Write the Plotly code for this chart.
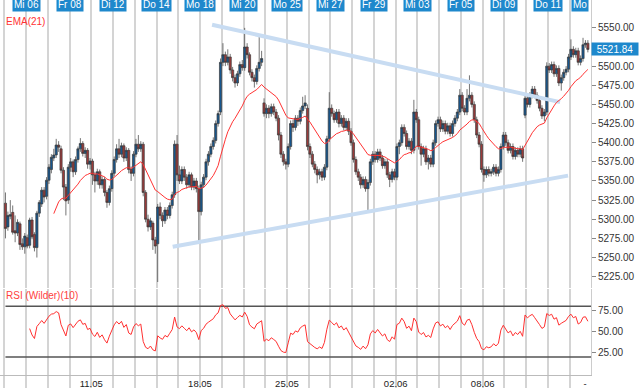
import plotly.graph_objects as go

# ---------------- data (hourly bars, 9 per trading day) ----------------
opens = [
    5321, 5290, 5304, 5309, 5285, 5282, 5294, 5268, 5264,
    5276, 5266, 5299, 5280, 5263, 5308, 5320, 5338, 5330,
    5351, 5365, 5380, 5384, 5397, 5392, 5364, 5342, 5325,
    5368, 5375, 5362, 5378, 5392, 5399, 5386, 5390, 5372,
    5376, 5358, 5350, 5362, 5345, 5352, 5335, 5322, 5340,
    5360, 5378, 5392, 5385, 5396, 5380, 5390, 5365, 5360,
    5385, 5398, 5392, 5398, 5335, 5300, 5290, 5295, 5273,
    5268, 5316, 5305, 5298, 5312, 5305, 5318, 5332, 5398,
    5358, 5350, 5365, 5355, 5345, 5358, 5342, 5350, 5340,
    5310, 5345, 5355, 5375, 5385, 5395, 5403, 5425, 5440,
    5505, 5515, 5505, 5512, 5495, 5485, 5478, 5490, 5502,
    5498, 5525, 5515, 5492, 5485, 5480, 5497, 5505, 5452,
    5438, 5445, 5438, 5447, 5440, 5432, 5410, 5385, 5375,
    5372, 5395, 5425, 5420, 5432, 5428, 5442, 5448, 5445,
    5395, 5385, 5372, 5365, 5358, 5362, 5355, 5368, 5405,
    5445, 5438, 5430, 5440, 5425, 5432, 5420, 5428, 5415,
    5400, 5378, 5362, 5355, 5345, 5352, 5340, 5348, 5375,
    5385, 5378, 5388, 5380, 5370, 5375, 5358, 5352, 5362,
    5355, 5395, 5400, 5420, 5412, 5395, 5402, 5390, 5440,
    5430, 5395, 5385, 5392, 5375, 5380, 5372, 5400, 5425,
    5430, 5418, 5425, 5415, 5422, 5412, 5425, 5432, 5440,
    5462, 5445, 5440, 5458, 5462, 5450, 5430, 5410, 5398,
    5365, 5358, 5365, 5360, 5362, 5368, 5360, 5365, 5395,
    5410, 5400, 5390, 5395, 5382, 5390, 5385, 5392, 5436,
    5458, 5450, 5462, 5470, 5462, 5455, 5445, 5435, 5440,
    5500, 5495, 5502, 5490, 5497, 5478, 5485, 5492, 5496,
    5512, 5522, 5515, 5520, 5505, 5510, 5528, 5530,
]
highs = [
    5335, 5310, 5325, 5318, 5305, 5300, 5297, 5275, 5282,
    5280, 5302, 5303, 5283, 5311, 5325, 5342, 5342, 5355,
    5372, 5385, 5392, 5405, 5402, 5396, 5368, 5346, 5372,
    5380, 5378, 5382, 5395, 5406, 5402, 5394, 5393, 5380,
    5379, 5362, 5366, 5365, 5356, 5355, 5338, 5344, 5364,
    5382, 5398, 5405, 5400, 5399, 5394, 5393, 5369, 5389,
    5405, 5410, 5402, 5401, 5338, 5306, 5302, 5298, 5277,
    5320, 5322, 5309, 5316, 5316, 5322, 5336, 5403, 5410,
    5370, 5369, 5369, 5359, 5362, 5361, 5354, 5354, 5344,
    5349, 5359, 5379, 5389, 5399, 5407, 5429, 5442, 5510,
    5530, 5519, 5522, 5516, 5499, 5489, 5494, 5506, 5508,
    5550, 5530, 5518, 5496, 5489, 5501, 5538, 5520, 5458,
    5450, 5449, 5451, 5451, 5444, 5436, 5414, 5389, 5379,
    5399, 5429, 5430, 5436, 5436, 5446, 5460, 5462, 5450,
    5399, 5389, 5376, 5369, 5366, 5366, 5372, 5409, 5466,
    5450, 5442, 5444, 5444, 5436, 5436, 5432, 5432, 5419,
    5404, 5382, 5366, 5359, 5356, 5356, 5352, 5379, 5389,
    5389, 5392, 5392, 5384, 5379, 5379, 5362, 5366, 5366,
    5399, 5404, 5424, 5424, 5416, 5406, 5406, 5456, 5444,
    5434, 5399, 5396, 5396, 5384, 5384, 5404, 5429, 5434,
    5434, 5429, 5429, 5426, 5426, 5429, 5436, 5444, 5470,
    5466, 5449, 5470, 5488, 5466, 5454, 5434, 5414, 5402,
    5369, 5369, 5369, 5366, 5372, 5372, 5369, 5399, 5414,
    5414, 5404, 5399, 5399, 5394, 5394, 5396, 5396, 5462,
    5462, 5466, 5474, 5474, 5466, 5459, 5449, 5444, 5505,
    5504, 5506, 5506, 5501, 5501, 5489, 5496, 5500, 5516,
    5535, 5526, 5524, 5524, 5514, 5537, 5534, 5534,
]
lows = [
    5275, 5285, 5300, 5280, 5270, 5278, 5260, 5260, 5255,
    5262, 5262, 5274, 5258, 5250, 5303, 5316, 5322, 5326,
    5346, 5360, 5376, 5380, 5388, 5360, 5325, 5305, 5320,
    5362, 5355, 5358, 5374, 5388, 5382, 5380, 5366, 5365,
    5345, 5335, 5345, 5340, 5340, 5330, 5315, 5318, 5336,
    5356, 5374, 5380, 5381, 5375, 5376, 5360, 5350, 5356,
    5381, 5388, 5388, 5330, 5296, 5284, 5286, 5260, 5255,
    5218, 5300, 5290, 5294, 5300, 5301, 5314, 5328, 5350,
    5346, 5346, 5350, 5340, 5341, 5338, 5338, 5335, 5270,
    5305, 5341, 5351, 5370, 5381, 5391, 5399, 5421, 5436,
    5500, 5500, 5501, 5490, 5480, 5472, 5474, 5486, 5494,
    5494, 5510, 5488, 5480, 5472, 5476, 5493, 5500, 5434,
    5432, 5432, 5434, 5436, 5428, 5403, 5380, 5370, 5365,
    5368, 5391, 5414, 5416, 5422, 5424, 5438, 5444, 5390,
    5380, 5368, 5360, 5347, 5352, 5350, 5351, 5364, 5401,
    5434, 5426, 5426, 5420, 5421, 5416, 5416, 5410, 5396,
    5374, 5358, 5350, 5340, 5341, 5336, 5312, 5344, 5371,
    5374, 5374, 5376, 5366, 5366, 5354, 5342, 5348, 5351,
    5351, 5385, 5396, 5408, 5391, 5391, 5385, 5386, 5426,
    5391, 5370, 5381, 5371, 5365, 5368, 5368, 5396, 5421,
    5414, 5414, 5411, 5411, 5408, 5408, 5421, 5428, 5436,
    5441, 5436, 5436, 5454, 5446, 5426, 5406, 5394, 5361,
    5349, 5354, 5356, 5356, 5358, 5356, 5356, 5361, 5391,
    5396, 5386, 5386, 5378, 5378, 5381, 5381, 5375, 5432,
    5446, 5446, 5458, 5458, 5451, 5441, 5431, 5428, 5436,
    5491, 5491, 5486, 5486, 5474, 5468, 5481, 5488, 5492,
    5508, 5511, 5511, 5501, 5501, 5506, 5524, 5518,
]
closes = [
    5288, 5305, 5306, 5283, 5282, 5296, 5267, 5264, 5278,
    5265, 5299, 5277, 5263, 5308, 5322, 5338, 5329, 5351,
    5368, 5381, 5384, 5397, 5394, 5364, 5342, 5324, 5368,
    5375, 5362, 5378, 5392, 5399, 5386, 5390, 5372, 5376,
    5358, 5350, 5362, 5345, 5352, 5335, 5322, 5340, 5360,
    5378, 5392, 5385, 5396, 5380, 5390, 5365, 5360, 5385,
    5398, 5392, 5398, 5335, 5300, 5290, 5298, 5273, 5265,
    5316, 5305, 5298, 5312, 5305, 5318, 5332, 5398, 5358,
    5350, 5365, 5355, 5345, 5358, 5342, 5350, 5340, 5310,
    5345, 5355, 5375, 5385, 5395, 5403, 5425, 5438, 5505,
    5515, 5505, 5512, 5495, 5485, 5478, 5490, 5502, 5498,
    5525, 5515, 5492, 5485, 5480, 5497, 5505, 5510, 5438,
    5445, 5438, 5447, 5440, 5432, 5410, 5385, 5375, 5372,
    5395, 5425, 5420, 5432, 5428, 5442, 5448, 5452, 5395,
    5385, 5372, 5365, 5358, 5362, 5355, 5368, 5405, 5445,
    5438, 5430, 5440, 5425, 5432, 5420, 5428, 5415, 5400,
    5378, 5362, 5355, 5345, 5352, 5340, 5348, 5375, 5385,
    5378, 5388, 5380, 5370, 5375, 5358, 5352, 5362, 5355,
    5395, 5400, 5420, 5412, 5395, 5402, 5390, 5440, 5430,
    5395, 5385, 5392, 5375, 5380, 5372, 5400, 5425, 5430,
    5418, 5425, 5415, 5422, 5412, 5425, 5432, 5440, 5462,
    5445, 5440, 5458, 5462, 5450, 5430, 5410, 5398, 5365,
    5358, 5365, 5360, 5362, 5368, 5360, 5365, 5395, 5410,
    5400, 5390, 5395, 5382, 5390, 5385, 5392, 5380, 5458,
    5450, 5462, 5470, 5462, 5455, 5445, 5435, 5440, 5500,
    5495, 5502, 5490, 5497, 5478, 5485, 5492, 5496, 5512,
    5522, 5515, 5520, 5505, 5510, 5528, 5530, 5521.84,
]

bars_per_day = 9
bar_x = list(range(len(closes)))

# date labels (position in trading-day slots)
top_labels = ["Mi 06", "Fr 08", "Di 12", "Do 14", "Mo 18", "Mi 20", "Mo 25",
              "Mi 27", "Fr 29", "Mi 03", "Fr 05", "Di 09", "Do 11", "Mo"]
top_label_days = [1, 3, 5, 7, 9, 11, 13, 15, 17, 19, 21, 23, 25, 26.49]
bottom_labels = ["11.05", "18.05", "25.05", "02.06", "08.06", "-"]
bottom_label_days = [4, 9, 13, 18, 22, 26.7]

# hand-drawn triangle lines (bar index, price)
upper_line_x = [85.5, 229.5]
upper_line_y = [5554, 5453]
lower_line_x = [69.2, 232.8]
lower_line_y = [5264, 5357]

price_ticks = [5225, 5250, 5275, 5300, 5325, 5350, 5375, 5400, 5425, 5450,
               5475, 5500, 5525, 5550]
rsi_ticks = [25, 50, 75]
rsi_levels = [20, 80]
last_price = closes[-1]

ema_period = 21
rsi_period = 10


# ---------------- indicators ----------------
def ema(values, n):
    out = [None] * len(values)
    a = 2.0 / (n + 1)
    prev = sum(values[:n]) / n
    out[n - 1] = prev
    for i in range(n, len(values)):
        prev = a * values[i] + (1 - a) * prev
        out[i] = prev
    return out


def rsi_wilder(values, n):
    out = [None] * len(values)
    gains, losses = [], []
    for i in range(1, n + 1):
        d = values[i] - values[i - 1]
        gains.append(max(d, 0))
        losses.append(max(-d, 0))
    ag = sum(gains) / n
    al = sum(losses) / n
    out[n] = 100 - 100 / (1 + ag / al) if al else 100
    for i in range(n + 1, len(values)):
        d = values[i] - values[i - 1]
        ag = (ag * (n - 1) + max(d, 0)) / n
        al = (al * (n - 1) + max(-d, 0)) / n
        out[i] = 100 - 100 / (1 + ag / al) if al else 100
    return out


ema_vals = ema(closes, ema_period)
rsi_vals = rsi_wilder(closes, rsi_period)


def day_to_x(d):
    return d * bars_per_day - 0.5


FONT = "Liberation Sans, Arial, sans-serif"
BLUE = "#1e88cc"
GRID = "#d4d4d4"

fig = go.Figure()

fig.add_trace(go.Scatter(x=upper_line_x, y=upper_line_y, mode="lines",
                         line=dict(color="#c8dcf2", width=4),
                         xaxis="x", yaxis="y", hoverinfo="skip"))
fig.add_trace(go.Scatter(x=lower_line_x, y=lower_line_y, mode="lines",
                         line=dict(color="#c8dcf2", width=4),
                         xaxis="x", yaxis="y", hoverinfo="skip"))

fig.add_trace(go.Candlestick(
    x=bar_x, open=opens, high=highs, low=lows, close=closes,
    increasing=dict(line=dict(color="#3a3a3a", width=0.7), fillcolor="#17578f"),
    decreasing=dict(line=dict(color="#3a3a3a", width=0.7), fillcolor="#9a3a3a"),
    xaxis="x", yaxis="y"))

fig.add_trace(go.Scatter(x=bar_x, y=ema_vals, mode="lines",
                         line=dict(color="#ff3333", width=1),
                         xaxis="x", yaxis="y"))

for lv in rsi_levels:
    fig.add_trace(go.Scatter(x=[bar_x[0], 242.3], y=[lv, lv], mode="lines",
                             line=dict(color="#555555", width=1.5),
                             xaxis="x2", yaxis="y2", hoverinfo="skip"))

fig.add_trace(go.Scatter(x=bar_x, y=rsi_vals, mode="lines",
                         line=dict(color="#ff3030", width=1),
                         xaxis="x2", yaxis="y2"))

xrange = [-2.26, 242.3]
minor_grid = dict(tickmode="linear", tick0=-0.5, dtick=bars_per_day,
                  showgrid=True, gridcolor=GRID, gridwidth=1.5)

# the last-price marker covers the nearest axis label, as in the original
price_ticktext = ["" if abs(v - last_price) < 12.5 else f"{v:.2f}"
                  for v in price_ticks]

annotations = []
for lab, d in zip(top_labels, top_label_days):
    annotations.append(dict(
        x=day_to_x(d), y=1 - 4.5 / 375, xref="x", yref="paper",
        text=lab, showarrow=False, bgcolor=BLUE, height=11, borderpad=1,
        font=dict(family=FONT, size=10, color="white"),
        xanchor="center", yanchor="middle"))
annotations.append(dict(
    x=0, xshift=4, y=1 - 21.5 / 375, xref="paper", yref="paper",
    text="EMA(21)", showarrow=False, xanchor="left", yanchor="middle",
    font=dict(family=FONT, size=10, color="#ff3333")))
annotations.append(dict(
    x=0, xshift=4, y=(375 - 295) / 375, xref="paper", yref="paper",
    text="RSI (Wilder)(10)", showarrow=False, xanchor="left", yanchor="middle",
    font=dict(family=FONT, size=10, color="#ff4040")))
annotations.append(dict(
    x=1, y=last_price, xref="paper", yref="y", text=f"{last_price:.2f}",
    showarrow=False, xanchor="left", yanchor="middle", bgcolor=BLUE,
    width=44, height=10, borderpad=1,
    font=dict(family=FONT, size=10, color="white")))

fig.update_layout(
    width=640, height=388,
    margin=dict(l=0, r=49, t=0, b=13),
    paper_bgcolor="white", plot_bgcolor="white",
    showlegend=False,
    boxgap=0.1, boxgroupgap=0,
    font=dict(family=FONT, size=10, color="#333333"),
    xaxis=dict(domain=[0, 1], anchor="y", range=xrange, showgrid=False,
               showticklabels=False, ticks="", zeroline=False,
               rangeslider=dict(visible=False), minor=minor_grid),
    xaxis2=dict(domain=[0, 1], anchor="y2", range=xrange, matches="x",
                showgrid=False, zeroline=False, showline=True,
                linecolor="#bbbbbb", linewidth=1,
                tickmode="array",
                tickvals=[day_to_x(d) for d in bottom_label_days],
                ticktext=bottom_labels, ticks="",
                tickfont=dict(family=FONT, size=9.5, color="#222222"),
                minor=dict(tickmode="linear", tick0=-0.5, dtick=bars_per_day,
                           showgrid=True, gridcolor=GRID, gridwidth=1.5,
                           ticks="outside", ticklen=13, tickcolor=GRID,
                           tickwidth=1.5)),
    yaxis=dict(domain=[1 - 288 / 375, 1], anchor="x", side="right",
               range=[5210.2, 5586.4], showgrid=False, zeroline=False,
               tickmode="array", tickvals=price_ticks, ticktext=price_ticktext,
               ticks="outside", ticklen=4, tickcolor="#888888",
               showline=True, linecolor="#cccccc",
               tickfont=dict(family=FONT, size=10, color="#333333")),
    yaxis2=dict(domain=[0, 86 / 375], anchor="x2", side="right",
                range=[-1.2, 100.5], showgrid=False, zeroline=False,
                tickmode="array", tickvals=rsi_ticks, tickformat=".2f",
                ticks="outside", ticklen=4, tickcolor="#888888",
                showline=True, linecolor="#cccccc",
                tickfont=dict(family=FONT, size=10, color="#333333")),
    annotations=annotations,
)

fig.write_html("out.html",
               config={"displayModeBar": False},
               post_script="document.body.style.margin='0';"
                           "document.body.style.overflow='hidden';")
